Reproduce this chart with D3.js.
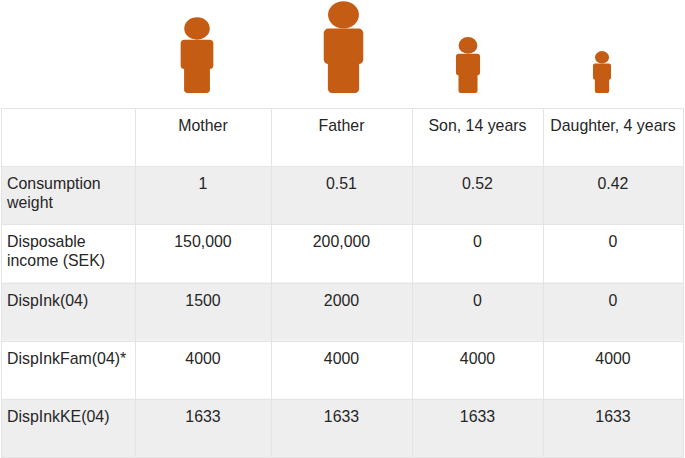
<!DOCTYPE html>
<html>
<head>
<meta charset="utf-8">
<script src="https://cdn.jsdelivr.net/npm/d3@7"></script>
<style>
html, body { margin: 0; padding: 0; background: #fff; }
svg { display: block; }
text { font-family: "Liberation Sans", Arial, sans-serif; font-size: 15.9px; fill: #262626; }
</style>
</head>
<body>
<svg id="chart"></svg>
<script>
const members = ["Mother", "Father", "Son, 14 years", "Daughter, 4 years"];
const figureHeights = [76, 92, 56, 42];

const rowLabels = [
    ["Consumption", "weight"],
    ["Disposable", "income (SEK)"],
    ["DispInk(04)"],
    ["DispInkFam(04)*"],
    ["DispInkKE(04)"]
];
const consumptionWeight = ["1", "0.51", "0.52", "0.42"];
const disposableIncome = ["150,000", "200,000", "0", "0"];
const dispInk = ["1500", "2000", "0", "0"];
const dispInkFam = ["4000", "4000", "4000", "4000"];
const dispInkKE = ["1633", "1633", "1633", "1633"];
const rowValues = [consumptionWeight, disposableIncome, dispInk, dispInkFam, dispInkKE];

const width = 685;
const height = 458;
const gridColor = "#e4e4e4";
const shade = "#eeeeee";
const orange = "#c45c14";

const svg = d3.select("#chart").attr("width", width).attr("height", height);

// column edges are not even, first column is the row label column
const colEdges = [1, 135, 271, 412, 543, 683];
const colLeft = d3.scaleOrdinal(["label"].concat(members), colEdges.slice(0, 5));
const colRight = d3.scaleOrdinal(["label"].concat(members), colEdges.slice(1));
const colMid = (m) => (colLeft(m) + colRight(m)) / 2;

const rowY = d3.scaleBand()
    .domain(d3.range(rowValues.length + 1))
    .range([108, 457]);

// striped rows
svg.selectAll(".stripe")
    .data(d3.range(1, rowValues.length + 1).filter((i) => i % 2 === 1))
    .enter()
    .append("rect")
    .attr("class", "stripe")
    .attr("x", colEdges[0])
    .attr("y", (i) => rowY(i))
    .attr("width", colEdges[5] - colEdges[0])
    .attr("height", rowY.bandwidth())
    .attr("fill", shade);

// grid
svg.selectAll(".hline")
    .data(d3.range(rowValues.length + 2))
    .enter()
    .append("line")
    .attr("class", "hline")
    .attr("x1", colEdges[0])
    .attr("x2", colEdges[5] + 1)
    .attr("y1", (i) => Math.round(108 + i * rowY.step()) + 0.5)
    .attr("y2", (i) => Math.round(108 + i * rowY.step()) + 0.5)
    .attr("stroke", gridColor);

svg.selectAll(".vline")
    .data(colEdges)
    .enter()
    .append("line")
    .attr("class", "vline")
    .attr("x1", (d) => d + 0.5)
    .attr("x2", (d) => d + 0.5)
    .attr("y1", 108)
    .attr("y2", 458)
    .attr("stroke", gridColor);

// header
svg.selectAll(".head")
    .data(members)
    .enter()
    .append("text")
    .attr("class", "head")
    .attr("x", colMid)
    .attr("y", rowY(0) + 22.5)
    .attr("text-anchor", "middle")
    .text((d) => d);

// row labels
const labels = svg.selectAll(".rowlabel")
    .data(rowLabels)
    .enter()
    .append("text")
    .attr("class", "rowlabel")
    .attr("y", (d, i) => rowY(i + 1) + 23);

labels.selectAll("tspan")
    .data((d) => d)
    .enter()
    .append("tspan")
    .attr("x", 7)
    .attr("dy", (d, i) => (i === 0 ? 0 : 19))
    .text((d) => d);

// cell values
rowValues.forEach(function (values, r) {
    svg.selectAll(".cell" + r)
        .data(values)
        .enter()
        .append("text")
        .attr("class", "cell" + r)
        .attr("x", (d, i) => colMid(members[i]))
        .attr("y", rowY(r + 1) + 23)
        .attr("text-anchor", "middle")
        .text((d) => d);
});

// figures stand on a common floor, scaled by their height
const figureX = d3.scaleOrdinal(members, [197, 343.5, 468, 602]);
const floorY = 93;

const figures = svg.selectAll(".figure")
    .data(members)
    .enter()
    .append("g")
    .attr("class", "figure")
    .attr("fill", orange)
    .attr("transform", (d) => `translate(${figureX(d)},${floorY})`);

figures.each(function (d, i) {
    const h = figureHeights[i];
    const g = d3.select(this);
    // legs
    g.append("rect")
        .attr("x", -0.17 * h)
        .attr("y", -0.5 * h)
        .attr("width", 0.34 * h)
        .attr("height", 0.5 * h)
        .attr("rx", 0.045 * h);
    // torso
    g.append("rect")
        .attr("x", -0.215 * h)
        .attr("y", -0.7 * h)
        .attr("width", 0.43 * h)
        .attr("height", 0.385 * h)
        .attr("rx", 0.05 * h);
    // head
    g.append("ellipse")
        .attr("cx", 0)
        .attr("cy", -0.85 * h)
        .attr("rx", 0.168 * h)
        .attr("ry", 0.148 * h);
});
</script>
</body>
</html>
